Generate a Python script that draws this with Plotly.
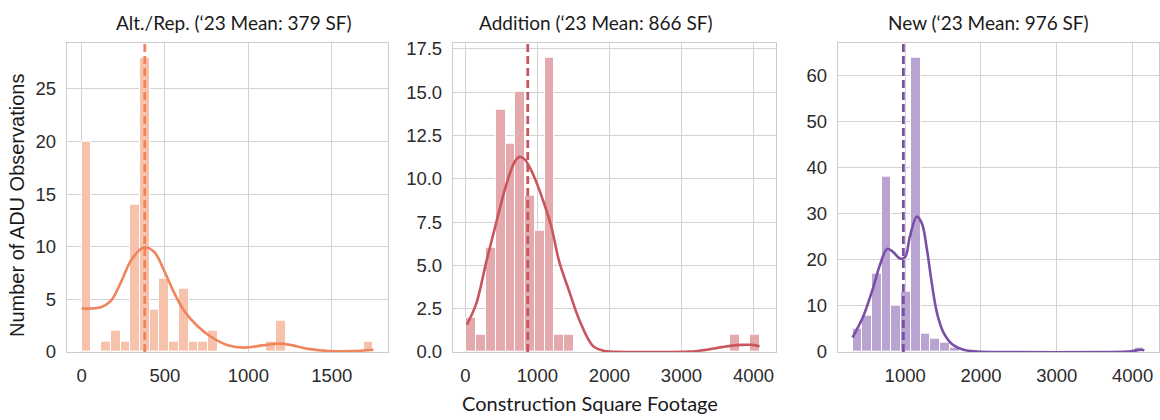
import plotly.graph_objects as go

# ---- histogram data: 30 equal-width bins per ADU type ----
alt_counts = [20, 0, 1, 2, 1, 14, 28, 4, 7, 1, 6, 1, 1, 2, 0,
              0, 0, 0, 0, 1, 3, 0, 0, 0, 0, 0, 0, 0, 0, 1]
alt_range = [0, 1750]

add_counts = [2, 1, 6, 14, 12, 15, 9, 7, 17, 1, 1, 0, 0, 0, 0,
              0, 0, 0, 0, 0, 0, 0, 0, 0, 0, 0, 0, 1, 0, 1]
add_range = [15, 4085]

new_counts = [5, 8, 17, 38, 10, 13, 64, 4, 3, 2, 1, 0, 0, 0, 0,
              0, 0, 0, 0, 0, 0, 0, 0, 0, 0, 0, 0, 0, 0, 1]
new_range = [306, 4155]

# ---- density curves (scaled to counts) ----
alt_kde_x = [0, 115, 175, 235, 300, 376, 436, 496, 556, 616, 696, 776, 876,
             976, 1096, 1180, 1260, 1360, 1480, 1620, 1750]
alt_kde_y = [4.13, 4.25, 4.85, 6.6, 8.8, 9.95, 9.5, 7.7, 5.6, 3.9, 2.45, 1.45,
             0.65, 0.42, 0.65, 0.8, 0.65, 0.3, 0.1, 0.08, 0.22]

add_kde_x = [20, 150, 290, 430, 567, 682, 751, 820, 935, 1074, 1189, 1304,
             1442, 1581, 1766, 1904, 2100, 2640, 3100, 3380, 3560, 3700, 3840,
             3980, 4085]
add_kde_y = [1.58, 2.78, 5.2, 7.5, 9.65, 10.95, 11.26, 11.13, 10.3, 8.8, 7.3,
             5.2, 3.5, 1.86, 0.37, 0.09, 0.01, 0.0, 0.02, 0.15, 0.28, 0.37,
             0.41, 0.41, 0.33]

new_kde_x = [306, 446, 578, 667, 764, 843, 932, 998, 1064, 1152, 1219, 1285,
             1346, 1400, 1440, 1506, 1616, 1770, 1950, 2300, 3625, 3978, 4110,
             4155]
new_kde_y = [3.15, 7.7, 14.0, 18.9, 22.4, 21.7, 20.3, 20.6, 25.2, 29.4, 28.0,
             22.5, 15.5, 10.0, 7.2, 4.2, 1.75, 0.5, 0.12, 0.0, 0.0, 0.14, 0.5,
             0.35]

means = [379, 866, 976]
titles = ["Alt./Rep. (\u201823 Mean: 379 SF)",
          "Addition (\u201823 Mean: 866 SF)",
          "New (\u201823 Mean: 976 SF)"]

line_colors = ["#f0845c", "#c9565c", "#7a50a4"]
bar_colors = ["#f7c2ab", "#e3a9ac", "#b9a3d0"]

x_ranges = [[-87.5, 1837.5], [-172, 4313], [114, 4348]]
y_ranges = [[0, 29.4], [0, 17.85], [0, 67.2]]
x_ticks = [[0, 500, 1000, 1500], [0, 1000, 2000, 3000, 4000], [1000, 2000, 3000, 4000]]
y_ticks = [[0, 5, 10, 15, 20, 25],
           [0, 2.5, 5, 7.5, 10, 12.5, 15, 17.5],
           [0, 10, 20, 30, 40, 50, 60]]
y_tickfmt = ["d", ".1f", "d"]

W, H = 1160, 420
x_domains_px = [(67, 388), (453, 776), (838, 1159)]
y_domain = [60 / H, 380 / H]

SANS = "Liberation Sans Narrow, Liberation Sans, Arial, sans-serif"
TICK_FONT = dict(family=SANS, size=18.5, color="#2b2b2b")
TITLE_FONT = dict(family="Lato, Open Sans, sans-serif", size=19, color="#1a1a1a")
XLABEL_FONT = dict(family="Lato, Open Sans, sans-serif", size=20, color="#1a1a1a")

fig = go.Figure()

panels = [
    (alt_counts, alt_range, alt_kde_x, alt_kde_y),
    (add_counts, add_range, add_kde_x, add_kde_y),
    (new_counts, new_range, new_kde_x, new_kde_y),
]

for i, (counts, rng, kx, ky) in enumerate(panels):
    ax = "" if i == 0 else str(i + 1)
    n = len(counts)
    w = (rng[1] - rng[0]) / n
    centers = [rng[0] + (k + 0.5) * w for k in range(n) if counts[k] > 0]
    heights = [c for c in counts if c > 0]
    fig.add_trace(go.Bar(
        x=centers, y=heights, width=w,
        marker=dict(color=bar_colors[i], line=dict(color="white", width=1)),
        xaxis="x" + ax, yaxis="y" + ax, hoverinfo="skip", showlegend=False))
    fig.add_trace(go.Scatter(
        x=kx, y=ky, mode="lines",
        line=dict(color=line_colors[i], width=2.6, shape="spline", smoothing=1.0),
        xaxis="x" + ax, yaxis="y" + ax, hoverinfo="skip", showlegend=False))
    fig.add_shape(type="line", xref="x" + ax, yref="y" + ax + " domain",
                  x0=means[i], x1=means[i], y0=0, y1=1,
                  line=dict(color=line_colors[i], width=2.8, dash="8px,4px"),
                  layer="above")

    x0, x1 = x_domains_px[i]
    axis_common = dict(showline=True, mirror=True, linecolor="#cccccc", linewidth=1.3,
                       showgrid=True, gridcolor="#d3d3d3", gridwidth=1.3,
                       zeroline=False, ticks="", tickfont=TICK_FONT)
    fig.update_layout(**{
        "xaxis" + ax: dict(domain=[x0 / W, x1 / W], range=x_ranges[i],
                           tickvals=x_ticks[i], anchor="y" + ax,
                           ticklabelstandoff=7, **axis_common),
        "yaxis" + ax: dict(domain=y_domain, range=y_ranges[i],
                           tickvals=y_ticks[i], tickformat=y_tickfmt[i],
                           anchor="x" + ax, ticklabelstandoff=6, **axis_common),
    })

title_x_px = [234, 596, 988]
annotations = []
for i, t in enumerate(titles):
    annotations.append(dict(text=t, x=title_x_px[i] / W, y=(H - 19) / H,
                            xref="paper", yref="paper", showarrow=False,
                            xanchor="center", yanchor="middle", font=TITLE_FONT))
annotations.append(dict(text="Construction Square Footage", x=590 / W, y=(H - 413) / H,
                        xref="paper", yref="paper", showarrow=False,
                        xanchor="center", yanchor="middle", font=XLABEL_FONT))
annotations.append(dict(text="Number of ADU Observations", x=17 / W, y=(H - 209) / H,
                        xref="paper", yref="paper", showarrow=False, textangle=-90,
                        xanchor="center", yanchor="middle",
                        font=dict(family=SANS, size=20, color="#1a1a1a")))

fig.update_layout(width=W, height=H, margin=dict(l=0, r=0, t=0, b=0),
                  paper_bgcolor="white", plot_bgcolor="white",
                  bargap=0, annotations=annotations)

fig.write_html("out.html")
